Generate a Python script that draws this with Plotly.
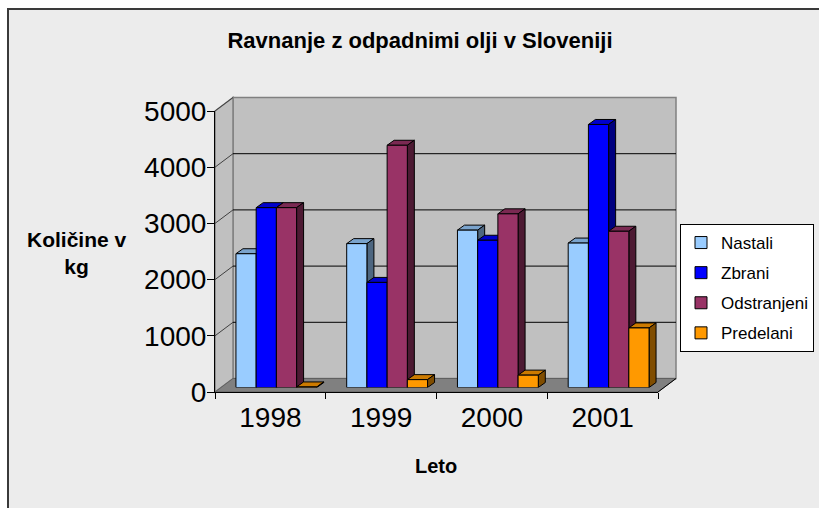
import plotly.graph_objects as go

# ---------------- data ----------------
years = ["1998", "1999", "2000", "2001"]
nastali = [2380, 2560, 2800, 2570]
zbrani = [3200, 1870, 2620, 4680]
odstranjeni = [3200, 4310, 3090, 2780]
predelani = [10, 140, 220, 1060]
series_names = ["Nastali", "Zbrani", "Odstranjeni", "Predelani"]
y_ticks = [0, 1000, 2000, 3000, 4000, 5000]

# ---------------- style ----------------
front_colors = ["#99CCFF", "#0000FF", "#993366", "#FF9900"]
top_colors = ["#7AA3CC", "#0000CC", "#7A2952", "#CC7A00"]
side_colors = ["#4D6680", "#000080", "#4D1A33", "#804D00"]

W, H = 819, 508
FONT = "Liberation Sans, Arial, sans-serif"


def px(x):
    return x / W


def py(y):
    return 1 - y / H


# front plane of the 3-D box (pixels)
FX0, FX1 = 215, 658
FY0, FY1 = 392, 111          # value 0 / value max
BACK = (18, -13.5)           # back wall offset
BARP = (6, -4.5)             # bar front plane offset
BARD = (7, -5)               # bar depth
YMAX = 5000
XR = [-0.5, 3.5]
BARGAP = 0.27

series = [nastali, zbrani, odstranjeni, predelani]

fig = go.Figure()
# empty trace so the front axes (ticks/labels) get drawn
fig.add_trace(go.Scatter(x=[None], y=[None], xaxis="x", yaxis="y",
                         showlegend=False, hoverinfo="skip"))
for name, vals, col in zip(series_names, series, front_colors):
    fig.add_trace(go.Bar(
        x=list(range(len(years))), y=vals, name=name,
        xaxis="x2", yaxis="y2", legendgroup=name,
        marker=dict(color=col, line=dict(color="black", width=1)),
        hoverinfo="skip",
    ))

shapes = []
# outer background and border
shapes.append(dict(type="rect", xref="paper", yref="paper",
                   x0=px(8), x1=px(840), y0=py(530), y1=py(9),
                   fillcolor="#ECECEC", line=dict(color="#3A3A3A", width=2),
                   layer="below"))


def fy(v):
    return FY0 - v * (FY0 - FY1) / YMAX


bx0, bx1 = FX0 + BACK[0], FX1 + BACK[0]
# back wall
shapes.append(dict(type="rect", xref="paper", yref="paper",
                   x0=px(bx0), x1=px(bx1), y0=py(FY0 + BACK[1]), y1=py(FY1 + BACK[1]),
                   fillcolor="#C0C0C0", line=dict(color="#808080", width=1.5), layer="below"))
# left wall
shapes.append(dict(type="path", xref="paper", yref="paper",
                   path=f"M {px(FX0)},{py(FY1)} L {px(bx0)},{py(FY1 + BACK[1])} "
                        f"L {px(bx0)},{py(FY0 + BACK[1])} L {px(FX0)},{py(FY0)} Z",
                   fillcolor="#C0C0C0", line=dict(color="#808080", width=1.5), layer="below"))
# floor
shapes.append(dict(type="path", xref="paper", yref="paper",
                   path=f"M {px(FX0)},{py(FY0)} L {px(bx0)},{py(FY0 + BACK[1])} "
                        f"L {px(bx1)},{py(FY0 + BACK[1])} L {px(FX1)},{py(FY0)} Z",
                   fillcolor="#808080", line=dict(color="#606060", width=1), layer="below"))
# gridlines on back and left walls
for v in y_ticks[1:-1]:
    yb = fy(v) + BACK[1]
    shapes.append(dict(type="line", xref="paper", yref="paper",
                       x0=px(bx0), x1=px(bx1), y0=py(yb), y1=py(yb),
                       line=dict(color="black", width=1), layer="below"))
for v in y_ticks[1:]:
    shapes.append(dict(type="line", xref="paper", yref="paper",
                       x0=px(FX0), x1=px(bx0), y0=py(fy(v)), y1=py(fy(v) + BACK[1]),
                       line=dict(color="#404040", width=1), layer="below"))
# floor right edge
shapes.append(dict(type="line", xref="paper", yref="paper",
                   x0=px(FX1), x1=px(bx1), y0=py(FY0), y1=py(FY0 + BACK[1]),
                   line=dict(color="black", width=1), layer="below"))

# 3-D faces of bars (top + side), in bar-plane data coordinates
dxu = BARD[0] * (XR[1] - XR[0]) / (FX1 - FX0)
dyu = -BARD[1] * YMAX / (FY0 - FY1)
bw = (1 - BARGAP) / len(series)
for i in range(len(years)):
    for j, vals in enumerate(series):
        h = vals[i]
        xl = i - 0.5 + BARGAP / 2 + j * bw
        xr = xl + bw
        shapes.append(dict(type="path", xref="x2", yref="y2", layer="between",
                           path=f"M {xl},{h} L {xr},{h} L {xr + dxu},{h + dyu} L {xl + dxu},{h + dyu} Z",
                           fillcolor=top_colors[j], line=dict(color="black", width=1)))
        shapes.append(dict(type="path", xref="x2", yref="y2", layer="between",
                           path=f"M {xr},0 L {xr + dxu},{dyu} L {xr + dxu},{h + dyu} L {xr},{h} Z",
                           fillcolor=side_colors[j], line=dict(color="black", width=1)))

annotations = [
    dict(text="Količine v<br>kg", x=px(77), y=py(253), xref="paper", yref="paper",
         showarrow=False, xanchor="center", yanchor="middle",
         font=dict(family=FONT, size=21, color="black", weight="bold")),
    dict(text="Leto", x=px(436), y=py(466), xref="paper", yref="paper",
         showarrow=False, xanchor="center", yanchor="middle",
         font=dict(family=FONT, size=20, color="black", weight="bold")),
]

fig.update_layout(
    width=W, height=H,
    margin=dict(l=0, r=0, t=0, b=0, autoexpand=False),
    paper_bgcolor="white", plot_bgcolor="rgba(0,0,0,0)",
    font=dict(family=FONT, color="black"),
    title=dict(text="Ravnanje z odpadnimi olji v Sloveniji", x=px(420), y=py(40),
               xref="paper", yref="container", xanchor="center", yanchor="middle",
               font=dict(family=FONT, size=22, color="black", weight="bold")),
    barmode="group", bargap=BARGAP, bargroupgap=0,
    xaxis=dict(domain=[px(FX0), px(FX1)], range=XR, anchor="y",
               tickmode="array", tickvals=list(range(len(years))), ticktext=years,
               ticks="", showline=True, linecolor="black", linewidth=1,
               showgrid=False, zeroline=False, tickfont=dict(size=28),
               minor=dict(tickmode="array", tickvals=[-0.5, 0.5, 1.5, 2.5, 3.5],
                          ticks="outside", ticklen=6, tickcolor="black", showgrid=False),
               fixedrange=True),
    yaxis=dict(domain=[py(FY0), py(FY1)], range=[0, YMAX], anchor="x",
               tickmode="array", tickvals=y_ticks,
               ticks="outside", ticklen=7, tickcolor="black",
               showline=True, linecolor="black", linewidth=1,
               showgrid=False, zeroline=False, tickfont=dict(size=28),
               ticklabelstandoff=-5, fixedrange=True),
    xaxis2=dict(domain=[px(FX0 + BARP[0]), px(FX1 + BARP[0])], range=XR, anchor="y2",
                visible=False, fixedrange=True),
    yaxis2=dict(domain=[py(FY0 + BARP[1]), py(FY1 + BARP[1])], range=[0, YMAX], anchor="x2",
                visible=False, fixedrange=True),
    legend=dict(x=px(680), y=py(224), xanchor="left", yanchor="top",
                bgcolor="white", bordercolor="black", borderwidth=1,
                font=dict(family=FONT, size=17, color="black"),
                tracegroupgap=5, traceorder="grouped"),
    shapes=shapes,
    annotations=annotations,
    showlegend=True,
)

fig.write_html("out.html", config={"displayModeBar": False},
               post_script="document.body.style.margin='0px';document.body.style.overflow='hidden';")
